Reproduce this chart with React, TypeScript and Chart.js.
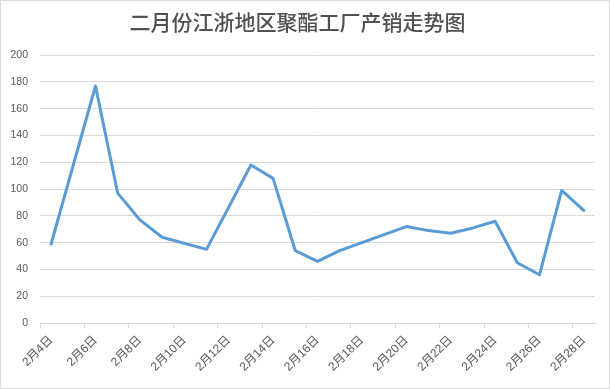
import React, { useEffect, useRef } from "react";
import { Chart, registerables } from "chart.js";

Chart.register(...registerables);

const TITLE = "二月份江浙地区聚酯工厂产销走势图";

const categories: string[] = [
  "2月4日", "2月5日", "2月6日", "2月7日", "2月8日", "2月9日", "2月10日",
  "2月11日", "2月12日", "2月13日", "2月14日", "2月15日", "2月16日", "2月17日",
  "2月18日", "2月19日", "2月20日", "2月21日", "2月22日", "2月23日", "2月24日",
  "2月25日", "2月26日", "2月27日", "2月28日",
];

const salesRatio: (number | null)[] = [
  59, null, 177, 97, 77, 64, null,
  55, null, 118, 108, 54, 46, 54,
  null, null, 72, 69, 67, 71, 76,
  45, 36, 99, 84,
];

const yTicksMin = 0;
const yTicksMax = 200;
const yTicksStep = 20;

const TEXT = "#595959";
const GRID = "#d9d9d9";
const FONT = "'Liberation Sans', 'Noto Sans CJK SC', sans-serif";

export default function App() {
  const ref = useRef<HTMLCanvasElement | null>(null);

  useEffect(() => {
    document.body.style.margin = "0";
    const canvas = ref.current;
    if (!canvas) return;
    const chart = new Chart(canvas, {
      type: "line",
      data: {
        labels: categories,
        datasets: [
          {
            label: "产销",
            data: salesRatio,
            borderColor: "#5b9bd5",
            backgroundColor: "#5b9bd5",
            borderWidth: 3,
            pointRadius: 0,
            pointHoverRadius: 0,
            tension: 0,
            spanGaps: true,
            borderJoinStyle: "round",
            borderCapStyle: "round",
          },
        ],
      },
      options: {
        responsive: false,
        animation: false,
        devicePixelRatio: 1,
        layout: { padding: { left: 0, right: 15, top: 0, bottom: 0 } },
        plugins: {
          legend: { display: false },
          tooltip: { enabled: false },
          title: {
            display: true,
            text: TITLE,
            color: "#505050",
            font: { family: "'Noto Sans CJK SC', sans-serif", size: 21, weight: 500, lineHeight: 1.2 },
            padding: { top: 9, bottom: 21 },
          },
        },
        scales: {
          x: {
            type: "category",
            offset: true,
            border: { display: true, color: GRID, width: 1 },
            grid: {
              offset: true,
              drawOnChartArea: false,
              drawTicks: true,
              tickLength: 5,
              lineWidth: 1,
              color: (ctx: any) =>
                ctx.index !== undefined && ctx.index % 2 === 0 ? GRID : "rgba(0,0,0,0)",
            },
            ticks: {
              autoSkip: false,
              minRotation: 45,
              maxRotation: 45,
              padding: 5,
              color: TEXT,
              font: { family: FONT, size: 12 },
              callback: (_v: any, i: number) => (i % 2 === 0 ? categories[i] : ""),
            },
            afterFit: (scale: any) => {
              scale.height = 66;
            },
          },
          y: {
            min: yTicksMin,
            max: yTicksMax,
            border: { display: false },
            grid: { color: GRID, lineWidth: 1, drawTicks: false },
            ticks: {
              stepSize: yTicksStep,
              padding: 12,
              color: TEXT,
              font: { family: FONT, size: 10.5 },
            },
            afterFit: (scale: any) => {
              scale.width = 40;
            },
          },
        },
      },
    });
    return () => chart.destroy();
  }, []);

  return (
    <div style={{ position: "relative", width: 610, height: 389, background: "#fff" }}>
      <canvas ref={ref} width={610} height={389} style={{ display: "block" }} />
      <div
        style={{
          position: "absolute",
          left: 0,
          top: 0,
          width: 610,
          height: 389,
          boxSizing: "border-box",
          border: "1px solid #d9d9d9",
          pointerEvents: "none",
        }}
      />
    </div>
  );
}
